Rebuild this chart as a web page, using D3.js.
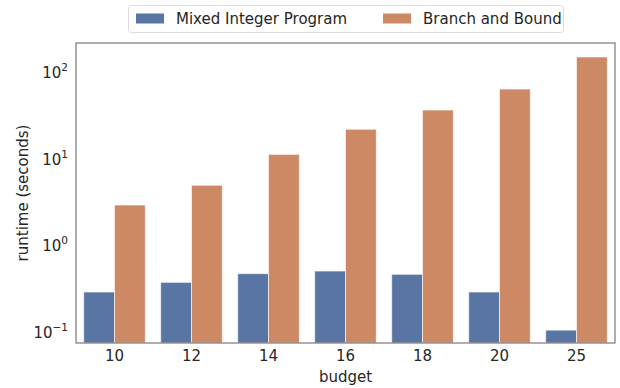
<!DOCTYPE html>
<html>
<head>
<meta charset="utf-8">
<script src="https://cdn.jsdelivr.net/npm/d3@7"></script>
<style>
  html, body { margin: 0; padding: 0; background: #fff; }
  svg { display: block; font-family: "DejaVu Sans", sans-serif; }
</style>
</head>
<body>
<svg id="chart" width="620" height="388"></svg>
<script>
// Runtime per budget for the two solvers (seconds, log scale)
const budgets = ["10", "12", "14", "16", "18", "20", "25"];
const seriesNames = ["Mixed Integer Program", "Branch and Bound"];
const mipRuntime = [0.288, 0.372, 0.468, 0.502, 0.460, 0.288, 0.105];
const bnbRuntime = [2.88, 4.86, 11.0, 21.4, 35.6, 62.1, 145];
const yTicks = [0.1, 1, 10, 100];
const yDomain = [0.0747, 210];

const colors = ["#5975a4", "#cc8963"];
const textColor = "#262626";

const svg = d3.select("#chart");
const margin = { left: 76, right: 5, top: 43, bottom: 45 };
const W = 620, H = 388;
const x0 = margin.left, x1 = W - margin.right;
const y0 = H - margin.bottom, y1 = margin.top;

const x = d3.scaleBand().domain(budgets).range([x0, x1])
  .paddingInner(0.2).paddingOuter(0.1);
const xs = d3.scaleBand().domain(seriesNames).range([0, x.bandwidth()]);
const y = d3.scaleLog().domain(yDomain).range([y0, y1]);

const rows = budgets.map((b, i) => ({
  budget: b,
  values: [
    { series: seriesNames[0], value: mipRuntime[i] },
    { series: seriesNames[1], value: bnbRuntime[i] }
  ]
}));

// bars
const groups = svg.append("g").selectAll("g").data(rows).join("g")
  .attr("transform", d => `translate(${x(d.budget)},0)`);
groups.selectAll("rect").data(d => d.values).join("rect")
  .attr("x", d => xs(d.series))
  .attr("width", xs.bandwidth())
  .attr("y", d => y(d.value))
  .attr("height", d => y0 - y(d.value))
  .attr("fill", (d, i) => colors[i])
  .attr("stroke", "#ffffff")
  .attr("stroke-opacity", 0.6)
  .attr("stroke-width", 1);

// frame
svg.append("rect")
  .attr("x", x0).attr("y", y1)
  .attr("width", x1 - x0).attr("height", y0 - y1)
  .attr("fill", "none").attr("stroke", "#7f7f7f").attr("stroke-width", 1.25);

// x axis
const xAxis = svg.append("g").attr("transform", `translate(0,${y0})`)
  .call(d3.axisBottom(x).tickSize(0).tickPadding(7));
xAxis.select(".domain").remove();
xAxis.selectAll("text").attr("font-size", 15).attr("fill", textColor)
  .attr("font-family", "DejaVu Sans, sans-serif");

// y axis with power-of-ten labels
const yAxis = svg.append("g").attr("transform", `translate(${x0},0)`)
  .call(d3.axisLeft(y).tickValues(yTicks).tickSize(0).tickFormat(""));
yAxis.select(".domain").remove();
yAxis.selectAll(".tick").each(function (d) {
  const exp = Math.round(Math.log10(d));
  const t = d3.select(this).append("text")
    .attr("x", -8).attr("y", 6)
    .attr("text-anchor", "end")
    .attr("fill", textColor)
    .attr("font-size", 15)
    .attr("font-family", "DejaVu Sans, sans-serif");
  t.append("tspan").text("10");
  t.append("tspan").attr("dy", -7).attr("font-size", 10.5)
    .text(exp < 0 ? "\u2212" + Math.abs(exp) : String(exp));
});

// axis titles
svg.append("text")
  .attr("x", (x0 + x1) / 2).attr("y", 382)
  .attr("text-anchor", "middle").attr("font-size", 15).attr("fill", textColor)
  .text("budget");
svg.append("text")
  .attr("transform", `translate(28,${(y0 + y1) / 2}) rotate(-90)`)
  .attr("text-anchor", "middle").attr("font-size", 15).attr("fill", textColor)
  .text("runtime (seconds)");

// legend
const legend = svg.append("g");
legend.append("rect")
  .attr("x", 128.5).attr("y", 5.5).attr("width", 435).attr("height", 27)
  .attr("rx", 3).attr("fill", "#fff").attr("stroke", "#dcdcdc");
const legendX = [136, 383];
seriesNames.forEach((name, i) => {
  legend.append("rect")
    .attr("x", legendX[i]).attr("y", 13.5).attr("width", 28).attr("height", 10)
    .attr("fill", colors[i]);
  legend.append("text")
    .attr("x", legendX[i] + 40).attr("y", 24)
    .attr("font-size", 15).attr("fill", textColor)
    .text(name);
});
</script>
</body>
</html>
